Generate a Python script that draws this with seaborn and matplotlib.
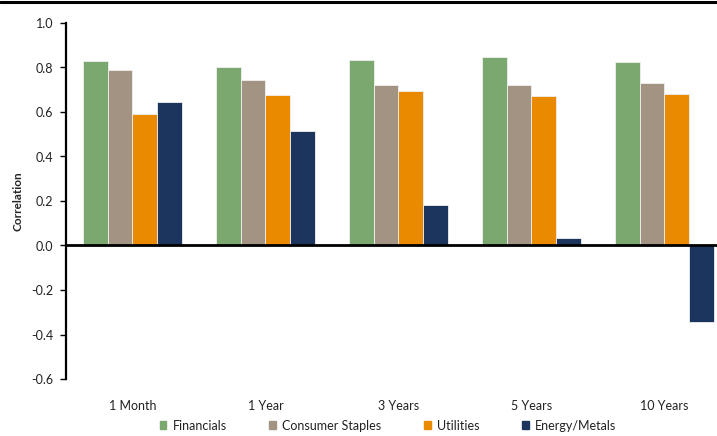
import matplotlib
matplotlib.use("Agg")
import matplotlib.pyplot as plt
import seaborn as sns
import pandas as pd
from matplotlib.lines import Line2D
import matplotlib.transforms as mtransforms

periods = ["1 Month", "1 Year", "3 Years", "5 Years", "10 Years"]
sectors = ["Financials", "Consumer Staples", "Utilities", "Energy/Metals"]
financials = [0.829, 0.803, 0.833, 0.847, 0.824]
consumer_staples = [0.790, 0.743, 0.720, 0.720, 0.730]
utilities = [0.592, 0.678, 0.694, 0.673, 0.680]
energy_metals = [0.644, 0.513, 0.180, 0.032, -0.345]
colors = ["#7BA86E", "#A39382", "#EA8A00", "#1C355E"]

rows = []
for s, vals in zip(sectors, [financials, consumer_staples, utilities, energy_metals]):
    for p, v in zip(periods, vals):
        rows.append({"Period": p, "Sector": s, "Correlation": v})
df = pd.DataFrame(rows)

sns.set_theme(style="white")
plt.rcParams['font.family'] = ['Lato', 'DejaVu Sans']

fig = plt.figure(figsize=(7.17, 4.36), dpi=100)
ax = fig.add_axes([66/717, 1-379/436, 651/717, (379-23)/436])
sns.barplot(data=df, x="Period", y="Correlation", hue="Sector", order=periods,
            hue_order=sectors, palette=colors, width=0.74, ax=ax,
            edgecolor="#f0f0f0", linewidth=0.6, saturation=1, legend=True)

ax.set_ylim(-0.6, 1.0)
ax.set_xlim(-0.5, 4.395)
ax.set_yticks([-0.6, -0.4, -0.2, 0.0, 0.2, 0.4, 0.6, 0.8, 1.0])
ax.set_yticklabels([f"{v:.1f}" for v in ax.get_yticks()], fontsize=9, color="#222222")
ax.tick_params(axis="y", which="both", left=True, length=4, width=1, color="black", pad=5)
ax.tick_params(axis="x", bottom=False, labelsize=9, pad=0, labelcolor="#222222")
ax.set_xlabel("")
ax.set_ylabel("Correlation", fontsize=8.5, fontweight="bold")
ax.yaxis.set_label_coords(-(66-24)/651, 0.5)
for s in ["top", "right", "bottom"]:
    ax.spines[s].set_visible(False)
ax.spines["left"].set_color("black")
ax.spines["left"].set_linewidth(1.6)
ax.axhline(0, color="black", lw=2, zorder=5)

ax.set_xticks(range(len(periods)))
ax.set_xticklabels(periods)
offset = mtransforms.ScaledTranslation(0, -9/72, fig.dpi_scale_trans)
for lbl in ax.get_xticklabels():
    lbl.set_transform(lbl.get_transform() + offset)

ax.get_legend().remove()
handles = [plt.Rectangle((0, 0), 1, 1, color=c) for c in colors]
fig.legend(handles, sectors, loc="center", bbox_to_anchor=(388/717, 1-425.5/436),
           ncol=4, frameon=False, fontsize=9, handlelength=0.55, handleheight=0.55,
           columnspacing=3.4, handletextpad=0.5, labelcolor="#222222")

fig.add_artist(Line2D([0, 1], [1-2.5/436, 1-2.5/436], color="black", lw=2.2))

fig.savefig("out.png", dpi=100)
